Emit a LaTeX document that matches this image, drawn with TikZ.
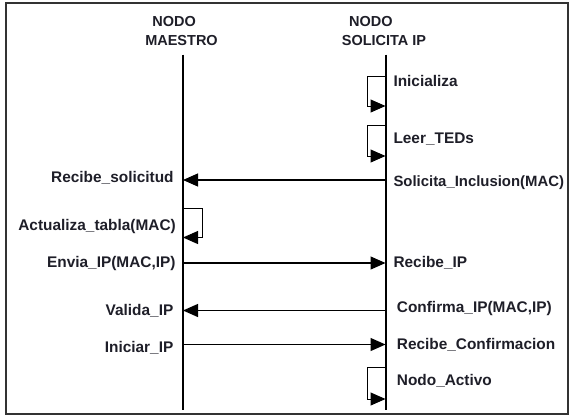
\documentclass[tikz,border=0pt]{standalone}
\usepackage{fontspec}
\setmainfont{Liberation Sans}
\usetikzlibrary{arrows.meta}

\definecolor{inkc}{HTML}{1E1E28}
\definecolor{framec}{HTML}{333333}

\tikzset{
  head/.style={inner sep=0pt, anchor=base, text=inkc,
    font=\fontsize{14.5}{17}\selectfont\bfseries},
  lbl/.style={inner sep=0pt, text=inkc,
    font=\fontsize{15.4}{18}\selectfont\bfseries},
  lblL/.style={lbl, anchor=base east},
  lblR/.style={lbl, anchor=base west},
  lifeline/.style={draw=black, line width=2pt},
  msg/.style={draw=black, line width=1.2pt,
    -{Triangle[length=15pt,width=13pt]}},
  selfmsg/.style={draw=black, line width=1pt,
    -{Triangle[length=15pt,width=13pt]}},
}

\begin{document}
\begin{tikzpicture}[x=1pt, y=-1pt]
  \useasboundingbox (0,0) rectangle (572,416);
  % outer frame
  \draw[framec, line width=2pt] (6,3) rectangle (568,414);

  % participants
  \node[head] (hmA) at (174.2,26.5) {NODO};
  \node[head] (hmB) at (181.5,45.5) {MAESTRO};
  \node[head] (hsA) at (370.8,26.5) {NODO};
  \node[head] (hsB) at (384,45.5) {SOLICITA IP};

  % lifelines
  \coordinate (mTop) at (183,54.5);
  \coordinate (mBot) at (183,410);
  \coordinate (sTop) at (385.5,54.5);
  \coordinate (sBot) at (385.5,410);
  \draw[lifeline] (mTop) -- (mBot);
  \draw[lifeline] (sTop) -- (sBot);

  % anchor points on the lifelines
  \coordinate (s1a) at (385.5,76.7);  \coordinate (s1b) at (385.5,106);
  \coordinate (s2a) at (385.5,125);   \coordinate (s2b) at (385.5,156);
  \coordinate (m3)  at (183,180);     \coordinate (s3)  at (385.5,180);
  \coordinate (m4a) at (183,208);     \coordinate (m4b) at (183,237.5);
  \coordinate (m5)  at (183,263);     \coordinate (s5)  at (385.5,263);
  \coordinate (m6)  at (183,310.5);   \coordinate (s6)  at (385.5,310.5);
  \coordinate (m7)  at (183,344.5);   \coordinate (s7)  at (385.5,344.5);
  \coordinate (s8a) at (385.5,367);   \coordinate (s8b) at (385.5,399);

  % self messages
  \draw[selfmsg] (s1a) -| ++(-18.5,0) |- (s1b);
  \draw[selfmsg] (s2a) -| ++(-18.5,0) |- (s2b);
  \draw[selfmsg] (m4a) -| ++(19,0) |- (m4b);
  \draw[selfmsg] (s8a) -| ++(-18.5,0) |- (s8b);

  % messages between the nodes
  \draw[msg] (s3) -- (m3);
  \draw[msg] (m5) -- (s5);
  \draw[msg] (s6) -- (m6);
  \draw[msg] (m7) -- (s7);

  % labels, master side
  \node[lblL] (l3) at (173.8,182) {Recibe\_solicitud};
  \node[lblL] (l4) at (176,230.5) {Actualiza\_tabla(MAC)};
  \node[lblL] (l5) at (175.7,267.5) {Envia\_IP(MAC,IP)};
  \node[lblL] (l6) at (173.5,315) {Valida\_IP};
  \node[lblL] (l7) at (173.5,352) {Iniciar\_IP};

  % labels, requesting side
  \node[lblR] (r1) at (393.3,86) {Inicializa};
  \node[lblR] (r2) at (393.3,143) {Leer\_TEDs};
  \node[lblR, font=\fontsize{14.9}{18}\selectfont\bfseries] (r3)
    at (393.3,186.3) {Solicita\_Inclusion(MAC)};
  \node[lblR] (r5) at (393.3,267) {Recibe\_IP};
  \node[lblR] (r6) at (396.7,312) {Confirma\_IP(MAC,IP)};
  \node[lblR] (r7) at (396.7,349) {Recibe\_Confirmacion};
  \node[lblR] (r8) at (396.7,385) {Nodo\_Activo};
\end{tikzpicture}
\end{document}
